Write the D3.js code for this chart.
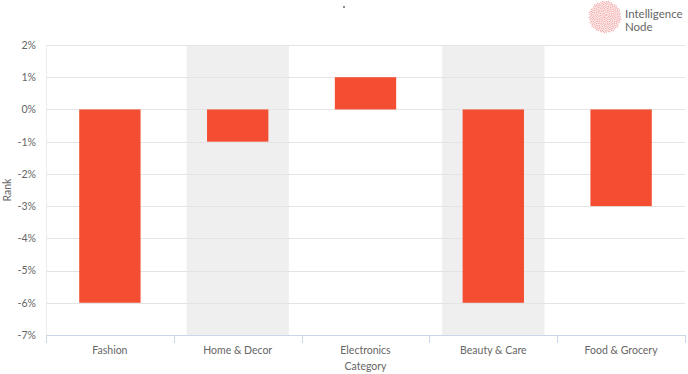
<!DOCTYPE html>
<html>
<head>
<meta charset="utf-8">
<script src="https://cdn.jsdelivr.net/npm/d3@7"></script>
<style>
  body { margin: 0; background: #fff; }
  text { font-family: Lato, "Open Sans", sans-serif; fill: #666; }
</style>
</head>
<body>
<div id="chart"></div>
<script>
// data
const categories = ["Fashion", "Home & Decor", "Electronics", "Beauty & Care", "Food & Grocery"];
const rankChange = [-6, -1, 1, -6, -3];
const yTicks = [2, 1, 0, -1, -2, -3, -4, -5, -6, -7];

const width = 688, height = 374;
const margin = {top: 45, right: 3, bottom: 39, left: 46};

const svg = d3.select("#chart").append("svg")
    .attr("width", width)
    .attr("height", height);

const x = d3.scaleBand()
    .domain(categories)
    .range([margin.left, width - margin.right]);

const y = d3.scaleLinear()
    .domain([-7, 2])
    .range([height - margin.bottom, margin.top]);

// alternating shaded bands
svg.append("g").selectAll("rect")
    .data(categories.filter((d, i) => i % 2 === 1))
    .join("rect")
    .attr("x", d => x(d) + x.bandwidth() * 0.1)
    .attr("width", x.bandwidth() * 0.8)
    .attr("y", y(2))
    .attr("height", y(-7) - y(2))
    .attr("fill", "#efefef");

// gridlines
svg.append("g").selectAll("line")
    .data(yTicks.filter(d => d !== -7))
    .join("line")
    .attr("x1", margin.left)
    .attr("x2", width - margin.right)
    .attr("y1", d => Math.round(y(d)) + 0.5)
    .attr("y2", d => Math.round(y(d)) + 0.5)
    .attr("stroke", "#e4e4e4");

// left plot border
svg.append("line")
    .attr("x1", margin.left + 0.5).attr("x2", margin.left + 0.5)
    .attr("y1", y(2)).attr("y2", y(-7))
    .attr("stroke", "#ececec");

// bars
svg.append("g").selectAll("rect")
    .data(categories)
    .join("rect")
    .attr("x", d => x(d) + x.bandwidth() * 0.26)
    .attr("width", x.bandwidth() * 0.48)
    .attr("y", (d, i) => y(Math.max(0, rankChange[i])))
    .attr("height", (d, i) => Math.abs(y(rankChange[i]) - y(0)))
    .attr("fill", "#f34e32");

// y axis
const yAxis = svg.append("g")
    .attr("transform", `translate(${margin.left},0)`)
    .call(d3.axisLeft(y).tickValues(yTicks).tickSize(0).tickPadding(10).tickFormat(d => d + "%"));
yAxis.select(".domain").remove();
yAxis.selectAll("text").style("font-size", "10.5px").attr("fill", "#666");

// x axis
const xAxis = svg.append("g")
    .attr("transform", `translate(0,${height - margin.bottom})`)
    .call(d3.axisBottom(x).tickSize(0).tickPadding(12));
xAxis.select(".domain").attr("stroke", "#ccd6eb");
xAxis.selectAll("text").style("font-size", "10.5px").attr("fill", "#666");

// band separators on the x axis
svg.append("g").selectAll("line")
    .data(categories.concat([null]))
    .join("line")
    .attr("x1", (d, i) => Math.round(margin.left + i * x.bandwidth()) + 0.5)
    .attr("x2", (d, i) => Math.round(margin.left + i * x.bandwidth()) + 0.5)
    .attr("y1", height - margin.bottom)
    .attr("y2", height - margin.bottom + 8)
    .attr("stroke", "#ccd6eb");

// axis titles
svg.append("text")
    .attr("x", (margin.left + width - margin.right) / 2)
    .attr("y", 370)
    .attr("text-anchor", "middle")
    .style("font-size", "10.5px")
    .text("Category");

svg.append("text")
    .attr("transform", `translate(11,${(y(2) + y(-7)) / 2}) rotate(-90)`)
    .attr("text-anchor", "middle")
    .style("font-size", "10.5px")
    .text("Rank");

// stray mark at top
svg.append("rect")
    .attr("x", 343).attr("y", 6).attr("width", 2).attr("height", 2)
    .attr("fill", "#888");

// logo
const logo = svg.append("g").attr("transform", "translate(605,17)");
const dots = d3.range(260);
logo.selectAll("circle")
    .data(dots)
    .join("circle")
    .attr("cx", d => Math.sqrt(d / 260) * 16 * Math.cos(d * 2.39996))
    .attr("cy", d => Math.sqrt(d / 260) * 16 * Math.sin(d * 2.39996))
    .attr("r", 0.75)
    .attr("fill", "#f29a9a")
    .attr("opacity", 0.85);
logo.append("text").attr("x", 20).attr("y", 1)
    .style("font-size", "11.5px").attr("fill", "#777").text("Intelligence");
logo.append("text").attr("x", 20).attr("y", 14)
    .style("font-size", "11.5px").attr("fill", "#777").text("Node");
</script>
</body>
</html>
